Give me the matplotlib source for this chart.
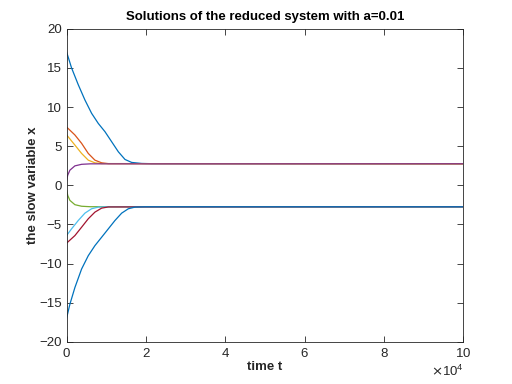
import matplotlib
matplotlib.use('Agg')
import matplotlib.pyplot as plt
import numpy as np
from matplotlib.ticker import ScalarFormatter

# time points and slow variable values
t_blue_top = [0, 1260, 2950, 4630, 6310, 8000, 9680, 11360, 13050, 14730, 16410, 18940, 21460, 100000]
x_blue_top = [17.05, 15.0, 12.85, 10.9, 9.2, 7.9, 6.85, 5.57, 4.28, 3.3, 2.92, 2.79, 2.76, 2.75]

t_orange = [0, 2100, 3790, 5470, 7150, 8840, 10520, 100000]
x_orange = [7.45, 6.43, 5.36, 4.07, 3.21, 2.87, 2.77, 2.75]

t_yellow = [0, 2100, 3790, 5470, 7150, 8840, 100000]
x_yellow = [6.45, 5.14, 4.07, 3.21, 2.87, 2.77, 2.75]

t_purple = [0, 300, 840, 2100, 3790, 6000, 100000]
x_purple = [0.6, 1.3, 1.93, 2.48, 2.68, 2.74, 2.75]

t_green = [0, 300, 840, 2100, 3790, 6000, 100000]
x_green = [-0.6, -1.3, -1.93, -2.48, -2.68, -2.74, -2.75]

t_lightblue = [0, 1260, 2950, 4630, 6310, 8000, 10000, 100000]
x_lightblue = [-6.43, -5.57, -4.5, -3.56, -3.0, -2.79, -2.75, -2.75]

t_red = [0, 2100, 3790, 5470, 7150, 8840, 10520, 100000]
x_red = [-7.4, -6.43, -5.36, -4.28, -3.43, -2.92, -2.77, -2.75]

t_blue_bot = [0, 840, 2100, 3790, 5470, 7150, 8840, 10520, 12200, 13890, 15570, 17260, 19780, 100000]
x_blue_bot = [-17.0, -15.2, -13.07, -10.7, -9.0, -7.71, -6.64, -5.57, -4.5, -3.56, -3.0, -2.79, -2.75, -2.75]

curves = [(t_blue_top, x_blue_top), (t_orange, x_orange), (t_yellow, x_yellow),
          (t_purple, x_purple), (t_green, x_green), (t_lightblue, x_lightblue),
          (t_red, x_red), (t_blue_bot, x_blue_bot)]
colors = ['#0072BD', '#D95319', '#EDB120', '#7E2F8E', '#77AC30', '#4DBEEE', '#A2142F', '#0072BD']

axcol = '#262626'
plt.rcParams['font.family'] = ['Liberation Sans', 'DejaVu Sans']

fig = plt.figure(figsize=(5.12, 3.84), dpi=100)
ax = fig.add_axes([0.13, 0.11, 0.775, 0.815])

for (t, x), c in zip(curves, colors):
    ax.plot(t, x, color=c, lw=0.9)

ax.set_xlim(0, 100000)
ax.set_ylim(-20, 20)
ax.set_xticks(np.arange(0, 100001, 20000))
ax.set_yticks(np.arange(-20, 21, 5))
fmt = ScalarFormatter(useMathText=True)
fmt.set_powerlimits((4, 4))
ax.xaxis.set_major_formatter(fmt)
ax.xaxis.get_offset_text().set_fontsize(9.5)
ax.xaxis.get_offset_text().set_color(axcol)

ax.tick_params(direction='in', top=True, right=True, labelsize=9.5, colors=axcol, length=4, width=0.6)
for s in ax.spines.values():
    s.set_color(axcol)
    s.set_linewidth(0.6)

ax.set_xlabel('time t', fontsize=9.5, fontweight='bold', color=axcol, labelpad=1)
ax.set_ylabel('the slow variable x', fontsize=9.5, fontweight='bold', color=axcol, labelpad=0)
ax.set_title('Solutions of the reduced system with a=0.01', fontsize=9.5, fontweight='bold', color='black', pad=6)

fig.savefig('out.png', dpi=100)
